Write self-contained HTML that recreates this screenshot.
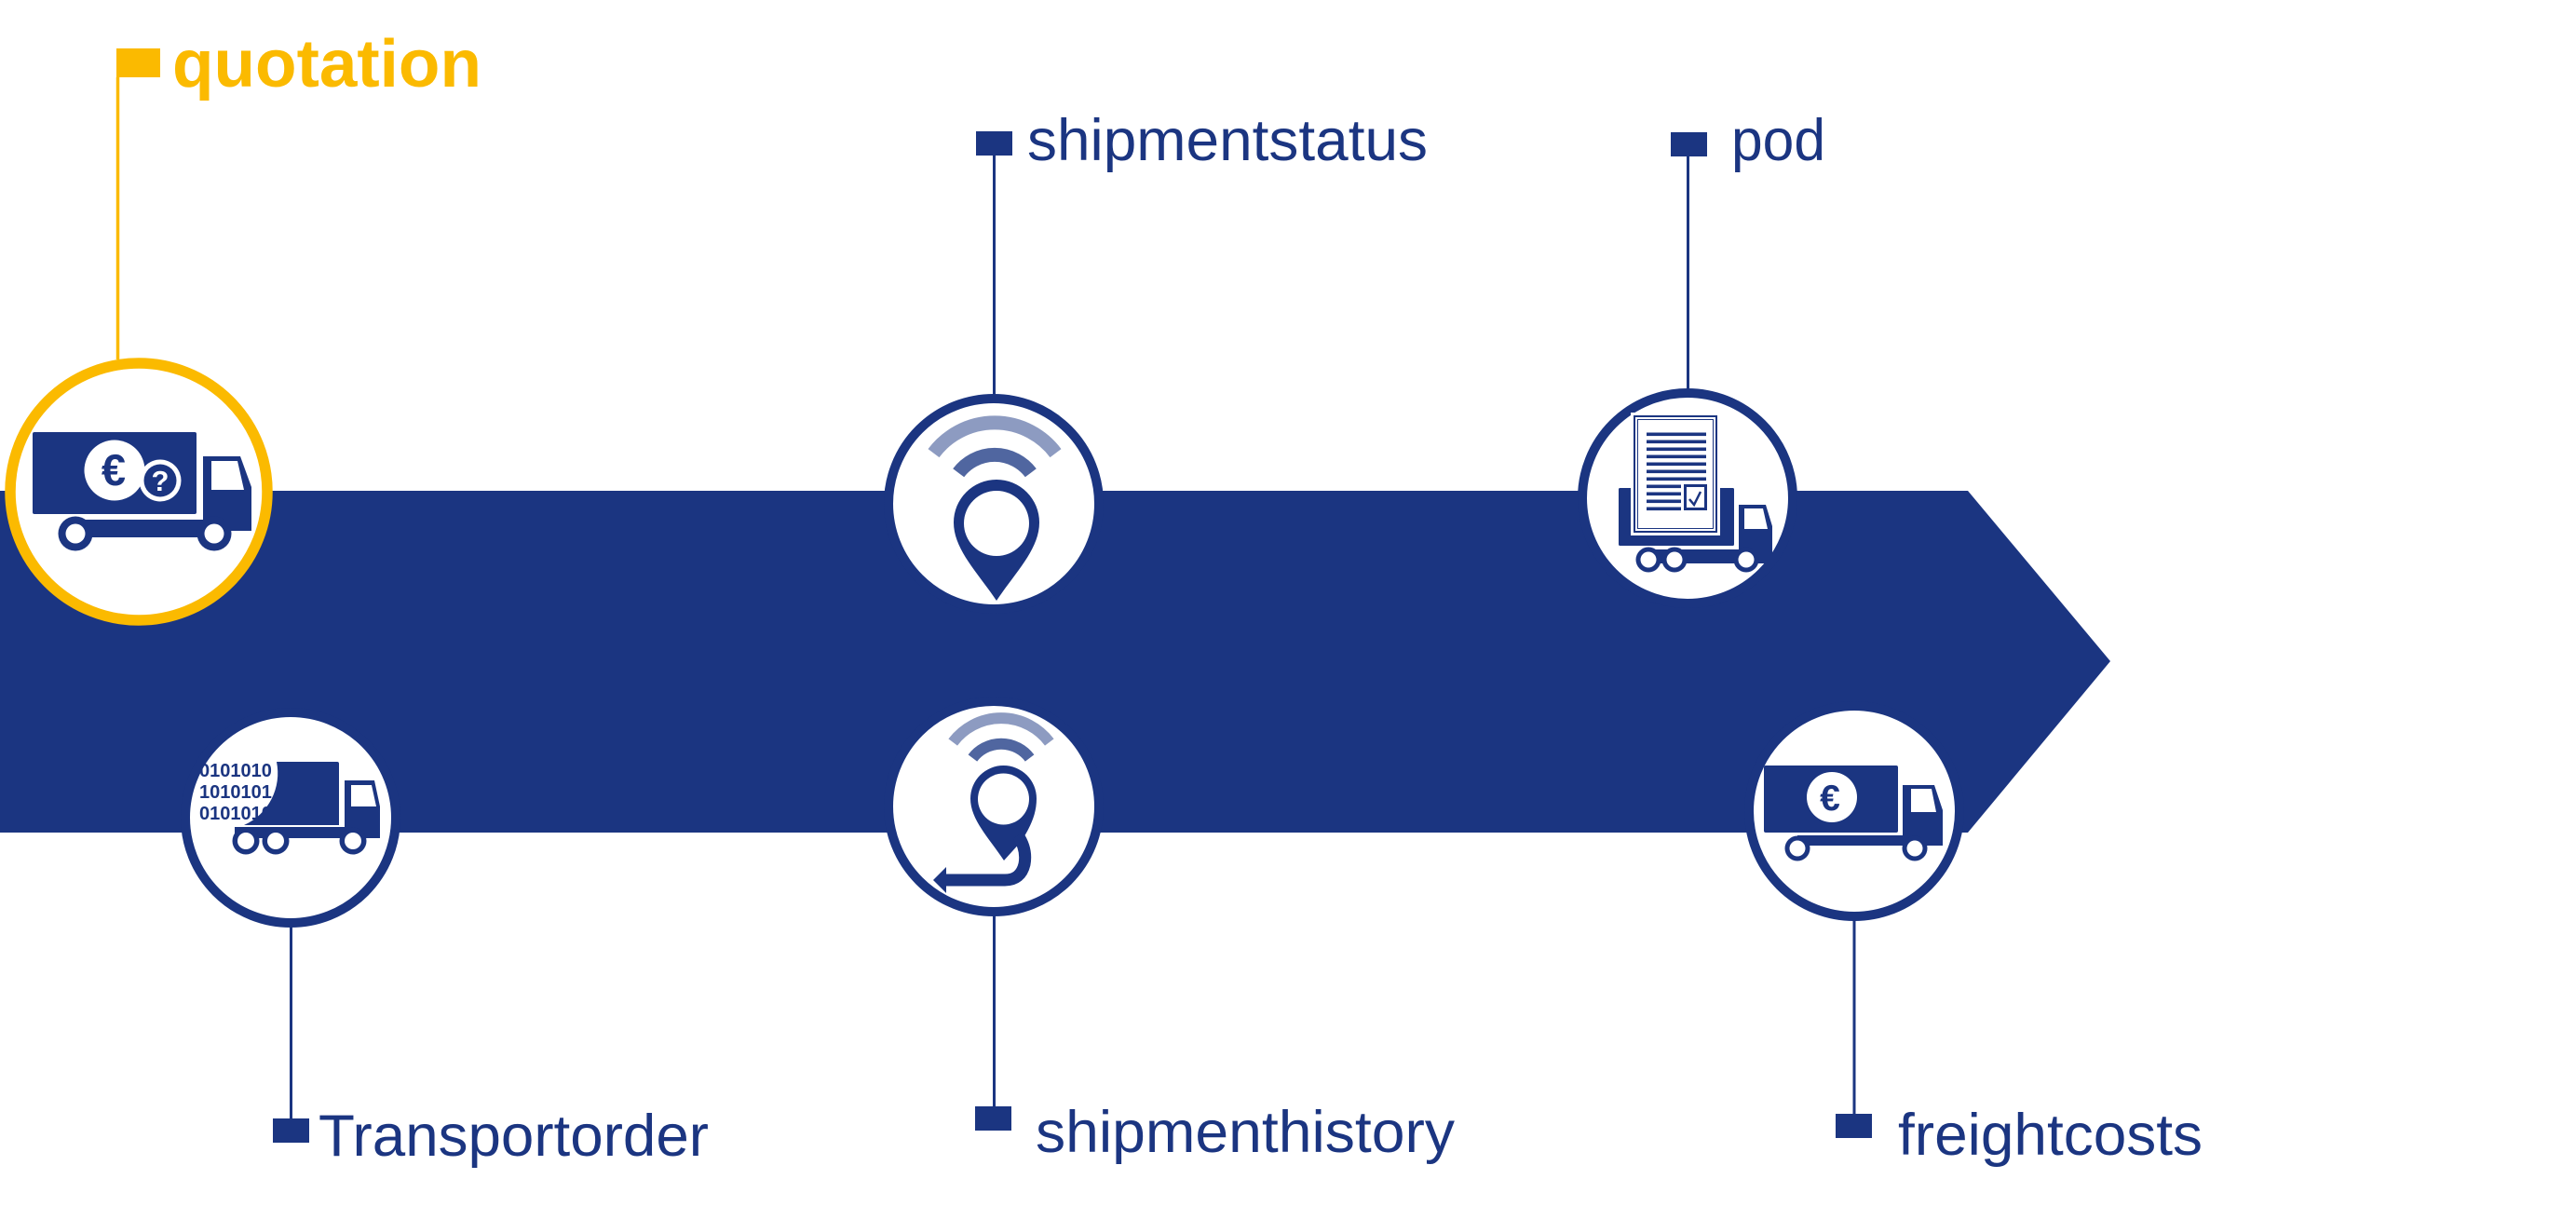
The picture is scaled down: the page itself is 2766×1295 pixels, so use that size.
<!DOCTYPE html>
<html>
<head>
<meta charset="utf-8">
<style>
  html, body { margin: 0; padding: 0; background: #ffffff; }
  svg { display: block; }
  text { font-family: "Liberation Sans", Arial, sans-serif; }
</style>
</head>
<body>
<svg width="2766" height="1295" viewBox="0 0 2766 1295" xmlns="http://www.w3.org/2000/svg">
  <rect x="0" y="0" width="2766" height="1295" fill="#ffffff"/>

  <!-- main arrow band -->
  <polygon points="0,527 2113,527 2266,710 2113,894 0,894" fill="#1b3581"/>

  <!-- ============ quotation ============ -->
  <rect x="125" y="52" width="47" height="31" fill="#fbba00"/>
  <line x1="126.5" y1="83" x2="126.5" y2="386" stroke="#fbba00" stroke-width="3.5"/>
  <text x="185" y="93" font-size="72" font-weight="bold" fill="#fbba00" textLength="332" lengthAdjust="spacingAndGlyphs">quotation</text>
  <circle cx="149" cy="528" r="138" fill="#ffffff" stroke="#fbba00" stroke-width="11.5"/>
  <!-- quotation truck -->
  <rect x="35" y="464" width="176" height="88" rx="2" fill="#1b3581"/>
  <circle cx="123" cy="505" r="32.5" fill="#ffffff"/>
  <text x="122" y="521" font-size="47" font-weight="bold" fill="#1b3581" text-anchor="middle">€</text>
  <circle cx="172" cy="516" r="22.5" fill="#ffffff"/>
  <circle cx="172" cy="516" r="17.5" fill="#1b3581"/>
  <text x="172" y="527" font-size="31" font-weight="bold" fill="#ffffff" text-anchor="middle">?</text>
  <path d="M218,490 L258,490 L270,523 L270,570 L218,570 Z" fill="#1b3581"/>
  <path d="M227,495 L255,495 L262,526 L227,526 Z" fill="#ffffff"/>
  <rect x="70" y="558" width="160" height="19" fill="#1b3581"/>
  <circle cx="81" cy="573" r="18.5" fill="#1b3581"/>
  <circle cx="81" cy="573" r="10.5" fill="#ffffff"/>
  <circle cx="230" cy="573" r="18.5" fill="#1b3581"/>
  <circle cx="230" cy="573" r="10.5" fill="#ffffff"/>

  <!-- ============ shipmentstatus ============ -->
  <rect x="1048" y="141" width="39" height="26" fill="#1b3581"/>
  <line x1="1067.5" y1="167" x2="1067.5" y2="426" stroke="#1b3581" stroke-width="3"/>
  <text x="1103" y="172" font-size="63" fill="#1b3581" textLength="430" lengthAdjust="spacingAndGlyphs">shipmentstatus</text>
  <circle cx="1067" cy="541" r="113" fill="#ffffff" stroke="#1b3581" stroke-width="10"/>
  <path d="M1002.5,486.6 A82,82 0 0 1 1133.5,486.6" fill="none" stroke="#8d9bc1" stroke-width="15"/>
  <path d="M1029.2,507.8 A48.5,48.5 0 0 1 1106.8,507.8" fill="none" stroke="#5066a0" stroke-width="15"/>
  <path d="M1070,645 C1050,615 1024,590 1024,561 A46,46 0 1 1 1116,561 C1116,590 1090,615 1070,645 Z" fill="#1b3581"/>
  <circle cx="1070" cy="562" r="35" fill="#ffffff"/>

  <!-- ============ pod ============ -->
  <rect x="1794" y="142" width="39" height="26" fill="#1b3581"/>
  <line x1="1812.5" y1="168" x2="1812.5" y2="420" stroke="#1b3581" stroke-width="3"/>
  <text x="1859" y="172" font-size="63" fill="#1b3581" textLength="101" lengthAdjust="spacingAndGlyphs">pod</text>
  <circle cx="1812" cy="535" r="113" fill="#ffffff" stroke="#1b3581" stroke-width="10"/>
  <!-- truck body -->
  <rect x="1738" y="524" width="124" height="62" rx="1.5" fill="#1b3581"/>
  <!-- document -->
  <rect x="1751" y="443" width="96" height="132" fill="#ffffff"/>
  <rect x="1755" y="447" width="88" height="124" fill="none" stroke="#1b3581" stroke-width="2"/>
  <rect x="1758.5" y="450.5" width="81" height="117" fill="none" stroke="#1b3581" stroke-width="1"/>
  <g fill="#1b3581">
    <rect x="1768" y="464.5" width="64" height="3.6"/>
    <rect x="1768" y="472.5" width="64" height="3.6"/>
    <rect x="1768" y="480.5" width="64" height="3.6"/>
    <rect x="1768" y="488.5" width="64" height="3.6"/>
    <rect x="1768" y="496.5" width="64" height="3.6"/>
    <rect x="1768" y="504.5" width="64" height="3.6"/>
    <rect x="1768" y="512.5" width="64" height="3.6"/>
    <rect x="1768" y="520.5" width="37" height="3.6"/>
    <rect x="1768" y="528.5" width="37" height="3.6"/>
    <rect x="1768" y="536.5" width="37" height="3.6"/>
    <rect x="1768" y="544.5" width="37" height="3.6"/>
  </g>
  <rect x="1809.5" y="521.5" width="22" height="25" fill="#ffffff" stroke="#1b3581" stroke-width="3"/>
  <polyline points="1814,536 1819,542 1826,528" fill="none" stroke="#1b3581" stroke-width="2.5"/>
  <!-- cab / chassis / wheels -->
  <path d="M1867,542 L1896,542 L1903,565 L1903,598 L1867,598 Z" fill="#1b3581"/>
  <path d="M1873,546 L1893,546 L1898,568 L1873,568 Z" fill="#ffffff"/>
  <rect x="1768" y="590" width="135" height="15" fill="#1b3581"/>
  <circle cx="1770" cy="601" r="13.5" fill="#1b3581"/>
  <circle cx="1770" cy="601" r="8.5" fill="#ffffff"/>
  <circle cx="1798" cy="601" r="13.5" fill="#1b3581"/>
  <circle cx="1798" cy="601" r="8.5" fill="#ffffff"/>
  <circle cx="1875" cy="601" r="13.5" fill="#1b3581"/>
  <circle cx="1875" cy="601" r="8.5" fill="#ffffff"/>

  <!-- ============ Transportorder ============ -->
  <line x1="312.5" y1="994" x2="312.5" y2="1202" stroke="#1b3581" stroke-width="3"/>
  <rect x="293" y="1201" width="39" height="26" fill="#1b3581"/>
  <text x="342" y="1241" font-size="63" fill="#1b3581" textLength="419" lengthAdjust="spacingAndGlyphs">Transportorder</text>
  <circle cx="312" cy="878" r="113" fill="#ffffff" stroke="#1b3581" stroke-width="10"/>
  <g font-size="20" fill="#1b3581" font-weight="bold">
    <text x="214" y="834">0101010</text>
    <text x="214" y="857">1010101</text>
    <text x="214" y="880">0101010</text>
  </g>
  <path d="M297,818 L362,818 Q364,818 364,820 L364,886 L262,886 A61,61 0 0 0 297,818 Z" fill="#1b3581"/>
  <path d="M370,838 L402,838 L408,866 L408,899 L370,899 Z" fill="#1b3581"/>
  <path d="M377,843 L399,843 L404,866 L377,866 Z" fill="#ffffff"/>
  <rect x="252" y="888" width="156" height="12" fill="#1b3581"/>
  <circle cx="264" cy="903" r="14.5" fill="#1b3581"/>
  <circle cx="264" cy="903" r="9" fill="#ffffff"/>
  <circle cx="296" cy="903" r="14.5" fill="#1b3581"/>
  <circle cx="296" cy="903" r="9" fill="#ffffff"/>
  <circle cx="379" cy="903" r="14.5" fill="#1b3581"/>
  <circle cx="379" cy="903" r="9" fill="#ffffff"/>

  <!-- ============ shipmenthistory ============ -->
  <line x1="1067.5" y1="982" x2="1067.5" y2="1189" stroke="#1b3581" stroke-width="3"/>
  <rect x="1047" y="1188" width="39" height="26" fill="#1b3581"/>
  <text x="1112" y="1237" font-size="63" fill="#1b3581" textLength="450" lengthAdjust="spacingAndGlyphs">shipmenthistory</text>
  <circle cx="1067" cy="866" r="113" fill="#ffffff" stroke="#1b3581" stroke-width="10"/>
  <path d="M1023.2,797 A64.8,64.8 0 0 1 1126.8,797" fill="none" stroke="#8d9bc1" stroke-width="12"/>
  <path d="M1044.4,814 A38.3,38.3 0 0 1 1105.6,814" fill="none" stroke="#5066a0" stroke-width="12"/>
  <path d="M1078,924 C1062,900 1042,880 1042,857.5 A35.5,35.5 0 1 1 1113,857.5 C1113,875 1106,888 1097,903 Z" fill="#1b3581"/>
  <circle cx="1077.5" cy="858" r="27.5" fill="#ffffff"/>
  <path d="M1093,897 Q1103,912 1100,928 Q1096,945 1079,945 L1014,945" fill="none" stroke="#1b3581" stroke-width="13"/>
  <polygon points="1002,945 1016,931 1016,959" fill="#1b3581"/>

  <!-- ============ freightcosts ============ -->
  <line x1="1991" y1="986" x2="1991" y2="1197" stroke="#1b3581" stroke-width="3"/>
  <rect x="1971" y="1196" width="39" height="26" fill="#1b3581"/>
  <text x="2038" y="1240" font-size="63" fill="#1b3581" textLength="327" lengthAdjust="spacingAndGlyphs">freightcosts</text>
  <circle cx="1991" cy="871" r="113" fill="#ffffff" stroke="#1b3581" stroke-width="10"/>
  <rect x="1894" y="822" width="144" height="72" rx="2" fill="#1b3581"/>
  <circle cx="1967" cy="856" r="27" fill="#ffffff"/>
  <text x="1965" y="870" font-size="39" font-weight="bold" fill="#1b3581" text-anchor="middle">€</text>
  <path d="M2043,843 L2077,843 L2086,870 L2086,908 L2043,908 Z" fill="#1b3581"/>
  <path d="M2052,847 L2074,847 L2079,872 L2052,872 Z" fill="#ffffff"/>
  <rect x="1930" y="897" width="156" height="11" fill="#1b3581"/>
  <circle cx="1930" cy="911" r="13.5" fill="#1b3581"/>
  <circle cx="1930" cy="911" r="8.5" fill="#ffffff"/>
  <circle cx="2056" cy="911" r="13.5" fill="#1b3581"/>
  <circle cx="2056" cy="911" r="8.5" fill="#ffffff"/>
</svg>
</body>
</html>
